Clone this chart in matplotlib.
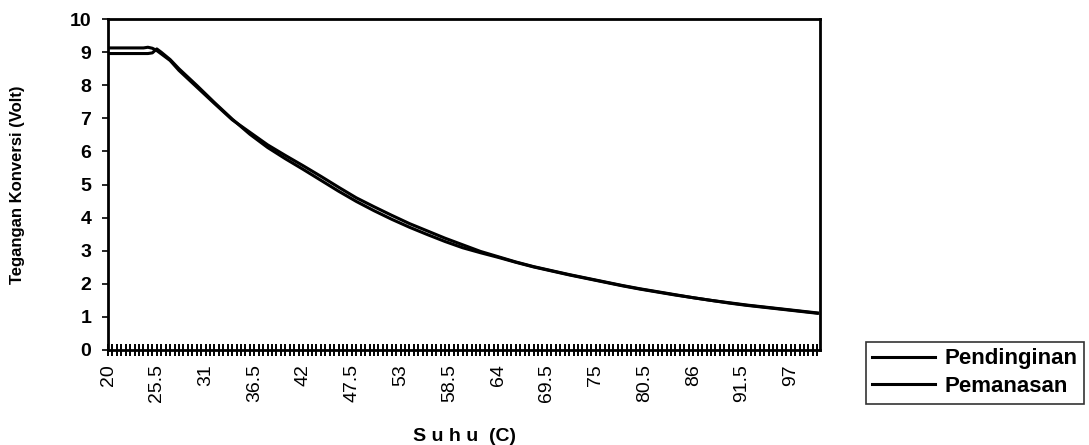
import numpy as np
import matplotlib
matplotlib.use('Agg')
import matplotlib.pyplot as plt
from matplotlib.ticker import MultipleLocator, FixedLocator

plt.rcParams['font.family'] = ['Liberation Sans', 'DejaVu Sans']

# temperature (C) points
suhu = [20, 22, 24, 24.5, 25, 25.5, 26, 27, 28, 30, 32, 34, 36, 38, 40, 42, 44,
        46, 48, 50, 52, 54, 56, 58, 60, 62, 64, 66, 68, 70, 72, 74, 76, 78, 80,
        82, 84, 86, 88, 90, 92, 94, 96, 98, 100]

pendinginan = [9.13, 9.13, 9.13, 9.15, 9.12, 9.05, 8.95, 8.75, 8.45, 7.95, 7.45,
               6.96, 6.58, 6.20, 5.88, 5.57, 5.25, 4.92, 4.60, 4.33, 4.07, 3.82,
               3.60, 3.38, 3.18, 2.98, 2.82, 2.66, 2.52, 2.40, 2.28, 2.17, 2.06,
               1.95, 1.85, 1.76, 1.67, 1.58, 1.50, 1.43, 1.36, 1.30, 1.24, 1.18,
               1.12]

pemanasan = [8.96, 8.96, 8.96, 8.96, 8.98, 9.10, 9.00, 8.78, 8.50, 8.00, 7.48,
             6.98, 6.52, 6.12, 5.78, 5.46, 5.13, 4.80, 4.49, 4.21, 3.95, 3.71,
             3.49, 3.28, 3.09, 2.94, 2.80, 2.65, 2.51, 2.39, 2.27, 2.16, 2.05,
             1.94, 1.84, 1.75, 1.66, 1.58, 1.50, 1.42, 1.35, 1.29, 1.23, 1.17,
             1.11]

tick_vals = [20, 25.5, 31, 36.5, 42, 47.5, 53, 58.5, 64, 69.5, 75, 80.5, 86, 91.5, 97]
tick_labels = ['20', '25.5', '31', '36.5', '42', '47.5', '53', '58.5', '64',
               '69.5', '75', '80.5', '86', '91.5', '97']

fig = plt.figure(figsize=(10.89, 4.45), dpi=100)
ax = fig.add_axes([0.0992, 0.2135, 0.6538, 0.7435])

ax.plot(suhu, pendinginan, color='black', lw=2.2, label='Pendinginan')
ax.plot(suhu, pemanasan, color='black', lw=2.2, label='Pemanasan')

ax.set_xlim(20, 100.3)
ax.set_ylim(0, 10)
ax.yaxis.set_major_locator(MultipleLocator(1))
ax.xaxis.set_major_locator(FixedLocator(tick_vals))
ax.set_xticklabels(tick_labels, rotation=90, fontsize=14)
ax.xaxis.set_minor_locator(MultipleLocator(0.5))
ax.tick_params(axis='x', which='both', direction='inout', length=8, width=1.4, pad=6)
ax.tick_params(axis='y', direction='out', length=4, width=1.2, labelsize=14, pad=8)
for lab in ax.get_yticklabels():
    lab.set_fontweight('bold')

for sp in ax.spines.values():
    sp.set_linewidth(2)

ax.set_xlabel('S u h u  (C)', fontsize=14, fontweight='bold', labelpad=19)
ax.set_ylabel('Tegangan Konversi (Volt)', fontsize=12, fontweight='bold', labelpad=32)

leg = fig.legend(loc='upper left', bbox_to_anchor=(0.795, 0.232), fontsize=16,
                 handlelength=2.8, handletextpad=0.45, labelspacing=0.3,
                 frameon=True, fancybox=False, edgecolor='black',
                 borderaxespad=0, borderpad=0.3)
leg.get_frame().set_linewidth(1.2)
for t in leg.get_texts():
    t.set_fontweight('bold')

fig.savefig('out.png', dpi=100)
